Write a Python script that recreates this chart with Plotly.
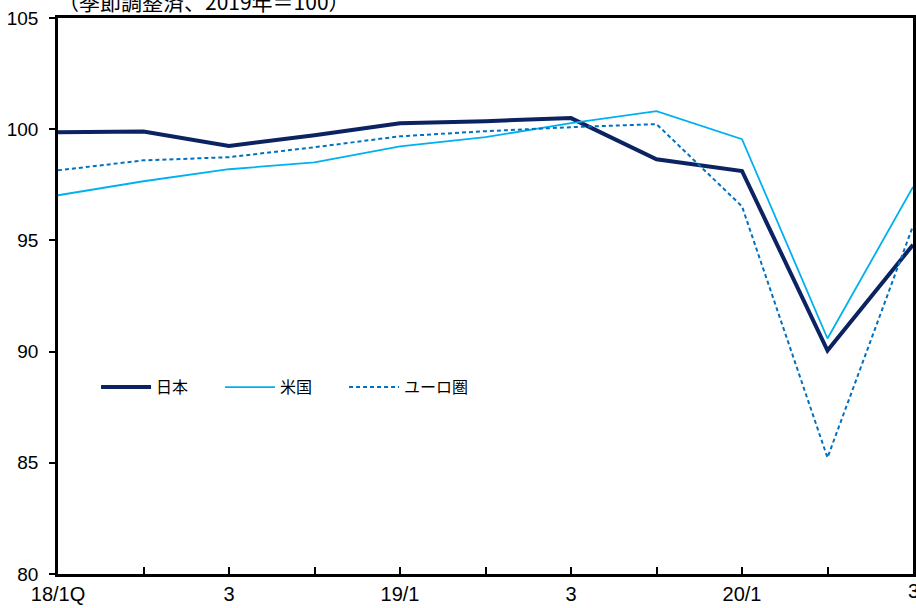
import plotly.graph_objects as go

quarters = ["18/1Q", "2", "3", "4", "19/1", "2", "3", "4", "20/1", "2", "3"]
tick_labels = ["18/1Q", "", "3", "", "19/1", "", "3", "", "20/1", "", "3"]
japan = [99.86, 99.9, 99.25, 99.73, 100.27, 100.36, 100.5, 98.65, 98.12, 90.05, 94.8]
usa = [97.03, 97.66, 98.2, 98.51, 99.23, 99.64, 100.27, 100.81, 99.55, 90.59, 97.4]
euro = [98.15, 98.6, 98.74, 99.19, 99.68, 99.91, 100.09, 100.23, 96.53, 85.23, 95.65]
names = ["日本", "米国", "ユーロ圏"]

xs = list(range(len(quarters)))
num_font = "Liberation Sans, sans-serif"
jp_font = "Noto Sans CJK JP, sans-serif"

fig = go.Figure()
fig.add_trace(go.Scatter(x=xs, y=japan, name=names[0], mode="lines",
                         line=dict(color="#0b2361", width=4)))
fig.add_trace(go.Scatter(x=xs, y=usa, name=names[1], mode="lines",
                         line=dict(color="#00b0f0", width=1.8)))
fig.add_trace(go.Scatter(x=xs, y=euro, name=names[2], mode="lines",
                         line=dict(color="#0070c0", width=2, dash="4px,3px")))

fig.update_layout(
    width=916, height=608,
    margin=dict(l=58, r=3, t=18, b=34),
    paper_bgcolor="white", plot_bgcolor="white",
    showlegend=True,
    legend=dict(orientation="h", x=0.0445, y=0.336, xanchor="left", yanchor="middle",
                entrywidth=59, entrywidthmode="pixels",
                font=dict(family=jp_font, size=16, color="black"),
                bgcolor="rgba(0,0,0,0)", itemwidth=50),
    xaxis=dict(range=[0, 10], tickmode="array", tickvals=xs, ticktext=tick_labels,
               ticks="inside", ticklen=7, tickwidth=1.5, tickcolor="black",
               showline=True, linecolor="black", linewidth=2.5, mirror=True,
               showgrid=False, zeroline=False, automargin=False,
               tickfont=dict(family=num_font, size=20, color="black")),
    yaxis=dict(range=[80, 105], tickmode="array", tickvals=[80, 85, 90, 95, 100, 105],
               ticks="outside", ticklen=6, tickwidth=1.5, tickcolor="black",
               showline=True, linecolor="black", linewidth=2.5, mirror=True,
               showgrid=False, zeroline=False, automargin=False,
               ticklabelstandoff=7,
               tickfont=dict(family=num_font, size=19, color="black")),
    annotations=[
        dict(text="（季節調整済、2019年＝100）", xref="paper", yref="paper",
             x=0.0, y=1.0, xanchor="left", yanchor="bottom", yshift=0,
             xshift=-2, showarrow=False,
             font=dict(family=jp_font, size=21, color="black")),
        dict(text=tick_labels[-1], xref="x", yref="paper", x=xs[-1], y=0,
             xanchor="center", yanchor="top", yshift=-4, showarrow=False,
             font=dict(family=num_font, size=20, color="black")),
    ],
)

fig.write_html("out.html", config={"displayModeBar": False},
               post_script="document.body.style.margin='0px';document.body.style.overflow='hidden';")
